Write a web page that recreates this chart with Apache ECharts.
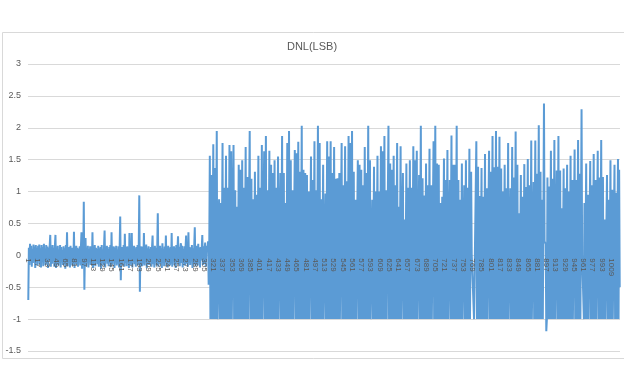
<!DOCTYPE html>
<html>
<head>
<meta charset="utf-8">
<script src="https://cdn.jsdelivr.net/npm/echarts@6/dist/echarts.min.js"></script>
<style>html,body{margin:0;padding:0;background:#fff}#c{width:624px;height:386px}</style>
</head>
<body>
<div id="c"></div>
<script>
// ---- data ----
const title = 'DNL(LSB)';
const yTicks = [-1.5, -1, -0.5, 0, 0.5, 1, 1.5, 2, 2.5, 3];
const codeCount = 1024;
const missingCode = -1; // DNL value of missing codes (bottom of the dense band)

// codes 1..314 : small DNL
const dnlLow = [
 -0.70,0.12,-0.15,0.18,-0.08,0.15,-0.18,0.10,-0.12,0.17,-0.05,0.14,-0.20,0.16,-0.10,0.12,-0.16,0.15,-0.07,0.17,
 -0.14,0.11,-0.19,0.16,-0.09,0.13,-0.17,0.18,-0.06,0.10,-0.15,0.16,-0.12,0.14,-0.20,0.12,-0.08,0.15,0.32,-0.18,
 0.10,-0.13,0.16,-0.09,0.12,-0.18,0.14,0.32,-0.20,0.11,-0.07,0.15,-0.16,0.09,-0.12,0.16,-0.19,0.13,-0.10,0.08,
 -0.15,0.14,-0.08,0.11,-0.21,0.16,-0.11,0.36,-0.17,0.10,-0.06,0.13,-0.19,0.15,-0.10,0.12,-0.16,0.09,-0.13,0.37,
 -0.20,0.11,-0.09,0.15,-0.14,0.12,-0.18,0.10,-0.07,0.14,-0.16,0.13,0.36,-0.21,0.12,-0.10,0.84,-0.54,0.08,0.27,
 -0.17,0.12,-0.11,0.15,-0.19,0.10,-0.08,0.14,-0.15,0.11,-0.12,0.36,-0.20,0.13,-0.09,0.16,-0.17,0.12,-0.06,0.10,
 -0.14,0.15,-0.18,0.11,-0.10,0.13,-0.21,0.16,-0.12,0.09,-0.16,0.14,0.39,-0.19,0.12,-0.08,0.15,-0.13,0.10,-0.17,
 0.13,-0.10,0.16,-0.18,0.36,-0.14,0.11,-0.07,0.14,-0.20,0.12,-0.11,0.15,-0.16,0.09,-0.13,0.14,-0.19,0.12,0.61,
 -0.39,0.10,-0.15,0.13,-0.09,0.16,-0.18,0.34,-0.12,0.11,-0.17,0.14,-0.08,0.12,-0.20,0.35,-0.13,0.10,-0.16,0.35,
 -0.19,0.12,-0.10,0.15,-0.14,0.11,-0.18,0.13,-0.07,0.16,-0.15,0.10,0.94,-0.57,0.12,-0.11,0.14,-0.17,0.09,-0.13,
 0.35,-0.16,0.12,-0.09,0.17,-0.20,0.11,-0.12,0.14,-0.15,0.10,-0.08,0.13,-0.18,0.12,0.31,-0.14,0.09,-0.19,0.15,
 -0.11,0.12,-0.16,0.10,0.66,-0.18,0.13,-0.09,0.15,-0.14,0.11,-0.20,0.19,-0.12,0.10,-0.17,0.14,-0.08,0.31,-0.15,
 0.12,-0.19,0.15,-0.10,0.11,-0.16,0.13,-0.13,0.35,-0.18,0.10,-0.09,0.14,-0.15,0.12,-0.20,0.16,-0.11,0.09,0.30,
 -0.14,0.13,-0.17,0.11,0.19,-0.12,0.15,-0.19,0.10,-0.08,0.14,-0.16,0.12,0.31,-0.13,0.10,-0.18,0.36,-0.11,0.13,
 -0.15,0.12,-0.09,0.16,-0.20,0.11,-0.13,0.14,0.44,-0.17,0.10,-0.12,0.15,-0.16,0.18,-0.10,0.12,-0.19,0.13,-0.08,
 0.11,0.32,-0.15,0.14,-0.12,0.10,0.20,-0.18,0.15,0.12,0.05,0.22,-0.46,0.10
];

// peak DNL values of the wide codes (codes 315..1024), in order
const peaksA = [
 1.56,1.26,1.74,1.37,1.95,0.88,0.82,1.76,1.06,1.56,
 1.06,1.73,1.63,1.73,1.02,0.76,1.42,1.34,1.49,1.06,
 1.70,1.23,1.95,1.20,0.88,1.31,0.95,1.56,1.06,1.73,
 1.63,1.87,1.02,1.64,1.42,1.29,1.49,1.06,1.55,1.29,
 1.87,1.29,0.82,1.76,1.95,1.49,1.02,1.65,1.60,1.78,
 1.31,2.03,1.34,1.29,1.26,1.00,1.55,1.18,1.79,1.02,
 2.03,1.76,0.88,1.42,0.97,1.79,1.55,1.79,1.29,1.70,
 1.20,1.21,1.29,1.76
];
const peaksB = [
 1.10,1.71,1.16,1.87,1.76,1.95,1.31,0.87,1.49,1.42,
 1.34,1.10,1.70,1.29,2.03,1.49,0.87,1.39,1.00,1.56,
 1.00,1.71,1.63,1.87,1.02,2.03,1.44,1.34,1.56,1.10,
 1.76,0.76,1.71,1.29,0.56,1.44,1.06,1.49,1.06,1.71,
 1.49,1.64,1.26,2.03,1.21,0.94,1.44,1.10,1.67,1.10,
 1.79,2.03,1.44,1.42,0.82,0.92,1.52,1.18,1.65,1.18,
 1.88,1.42,1.42,2.03,1.18,0.87,1.44,1.10,1.49,1.06,
 1.67,1.31
];
const peaksC = [
 1.79,1.39,0.93,1.37,
 0.92,1.59,1.05,1.64,1.31,1.87,1.38,1.95,1.39,1.86,
 1.36,1.00,1.42,1.05,1.76,1.05,1.70,1.22,1.94,1.42,
 0.66,1.26,0.92,1.43,1.07,1.51,1.10,1.80,1.15,1.80,
 1.28,2.04,1.31,0.87,2.38
];
const peaksD = [
 1.22,1.08,1.64,1.20,1.81,1.33,1.87,1.33,0.74,1.36,
 1.05,1.42,1.00,1.56,1.18,1.66,1.18,1.81,1.28,2.29
];
const peaksE = [
 0.82,1.44,0.95,1.48,1.10,1.59,1.18,1.64,1.22,1.81,
 1.23,0.56,1.26,0.87,1.49,1.03,1.42,0.98,1.51
];
// code ranges [first, last] over which each group of peaks lies
const peakRanges = [[315, 767, 'A'], [776, 893, 'C'], [899, 958, 'D'], [963, 1021, 'E']];
// individual codes outside the alternating pattern [code, DNL]
const singleCodes = [
 [768, 0.02], [769, 0.00], [770, 0.01], [771, 0.03],
 [894, 0.22], [895, 0.20], [896, 0.18], [897, -1.19],
 [959, 0.00], [960, -0.02], [961, 0.01],
 [1023, 1.34], [1024, -0.50]
];

// ---- build series ----
const categories = [];
for (let i = 1; i <= codeCount; i++) categories.push(String(i));
const dnl = new Array(codeCount).fill(missingCode);
dnlLow.forEach((v, i) => { dnl[i] = v; });
const groups = { A: peaksA.concat(peaksB), C: peaksC, D: peaksD, E: peaksE };
peakRanges.forEach(([a, b, key]) => {
  const p = groups[key];
  const step = (b - a) / (p.length - 1);
  p.forEach((v, i) => { dnl[Math.round(a + i * step) - 1] = v; });
});
singleCodes.forEach(([c, v]) => { dnl[c - 1] = v; });

// ---- chart ----
const gridTop = 64, gridBottom = 35, chartH = 386;
const yMin = -1.5, yMax = 3;
// distance from grid bottom up to the y = 0 line (x axis crosses there, as in the reference)
const zeroOffset = -((0 - yMin) / (yMax - yMin)) * (chartH - gridTop - gridBottom);

const chart = echarts.init(document.getElementById('c'), null, { renderer: 'canvas' });
const txt = '#595959';
chart.setOption({
  animation: false,
  backgroundColor: '#ffffff',
  title: {
    text: title, left: 'center', top: 36,
    textStyle: { fontFamily: 'Liberation Sans', fontSize: 11, fontWeight: 'normal', color: txt }
  },
  graphic: [{
    type: 'rect', left: 0, top: 30, z: -10, silent: true,
    shape: { width: 623, height: 326 },
    style: { fill: 'none', stroke: '#d9d9d9', lineWidth: 1 }
  }],
  grid: { left: 28, right: 4, top: gridTop, bottom: gridBottom, containLabel: false },
  xAxis: {
    type: 'category', data: categories, boundaryGap: true, z: 10,
    position: 'bottom', offset: zeroOffset,
    axisLine: { show: false, onZero: false },
    axisTick: { show: false },
    splitLine: { show: false },
    axisLabel: {
      interval: 15, rotate: -90, margin: 3, color: txt,
      fontFamily: 'Liberation Sans', fontSize: 8
    }
  },
  yAxis: {
    type: 'value', min: yMin, max: yMax, interval: 0.5,
    axisLine: { show: false }, axisTick: { show: false },
    splitLine: { lineStyle: { color: '#d9d9d9', width: 1 } },
    axisLabel: { color: txt, fontFamily: 'Liberation Sans', fontSize: 9, margin: 7,
      formatter: v => (yTicks.indexOf(v) >= 0 ? String(v) : '') }
  },
  series: [{
    type: 'line', data: dnl, symbol: 'none', sampling: null,
    lineStyle: { color: '#5B9BD5', width: 2 },
    itemStyle: { color: '#5B9BD5' }
  }]
});
</script>
</body>
</html>
